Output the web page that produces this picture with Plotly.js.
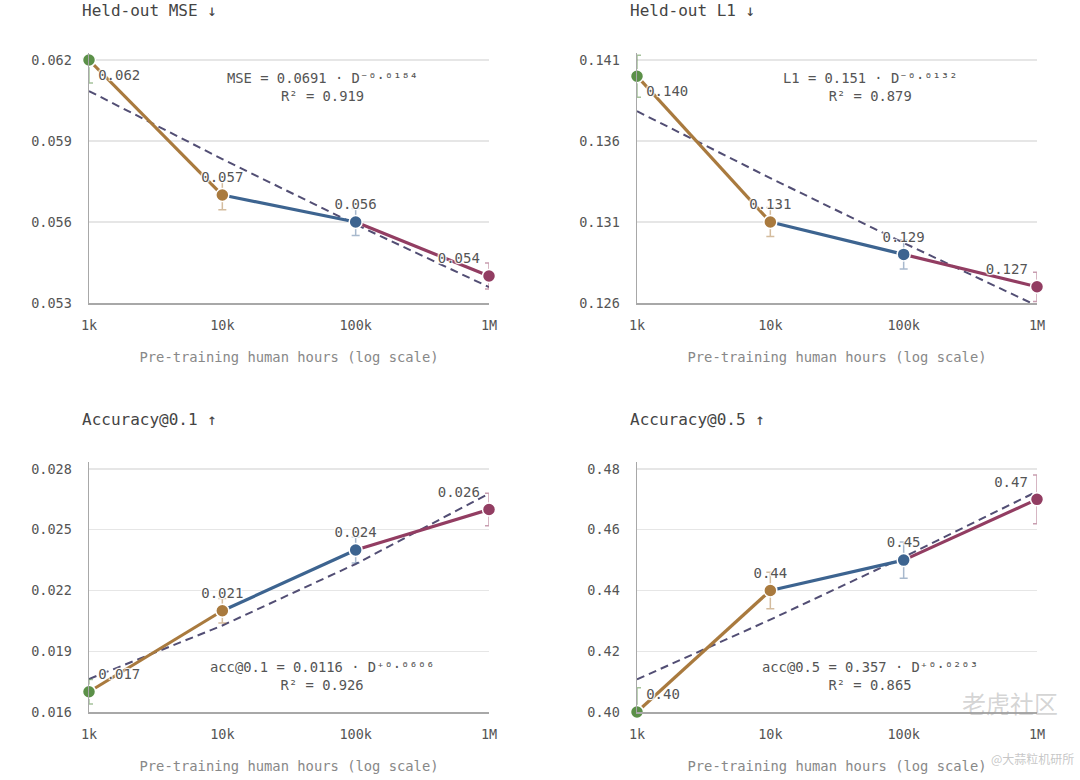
<!DOCTYPE html>
<html>
<head>
<meta charset="utf-8">
<script src="https://cdn.plot.ly/plotly-3.0.1.min.js"></script>
<style>html,body{margin:0;padding:0;background:#fff;}#chart{width:1080px;height:780px;}</style>
</head>
<body>
<div id="chart"></div>
<script>
// ---- data ----
const xHours = [1000, 10000, 100000, 1000000];
const xTickLabels = ['1k', '10k', '100k', '1M'];
const xAxisTitle = 'Pre-training human hours (log scale)';

const panelTitles = ['Held-out MSE ↓', 'Held-out L1 ↓', 'Accuracy@0.1 ↑', 'Accuracy@0.5 ↑'];

const mseValues = [0.0620, 0.0570, 0.0560, 0.0540];
const mseErrors = [0.00085, 0.00055, 0.0005, 0.00048];
const mseFit = [0.06085, 0.05833, 0.05591, 0.05359];
const mseLabels = ['0.062', '0.057', '0.056', '0.054'];
const mseTicks = [0.053, 0.056, 0.059, 0.062];
const mseFormula = 'MSE = 0.0691 · D⁻⁰·⁰¹⁸⁴<br>R² = 0.919';

const l1Values = [0.1400, 0.1310, 0.1290, 0.1270];
const l1Errors = [0.0013, 0.0009, 0.0009, 0.0009];
const l1Fit = [0.13784, 0.13371, 0.12971, 0.12583];
const l1Labels = ['0.140', '0.131', '0.129', '0.127'];
const l1Ticks = [0.126, 0.131, 0.136, 0.141];
const l1Formula = 'L1 = 0.151 · D⁻⁰·⁰¹³²<br>R² = 0.879';

const acc01Values = [0.0170, 0.0210, 0.0240, 0.0260];
const acc01Errors = [0.0006, 0.0006, 0.00064, 0.0008];
const acc01Fit = [0.01763, 0.02027, 0.02331, 0.02679];
const acc01Labels = ['0.017', '0.021', '0.024', '0.026'];
const acc01Ticks = [0.016, 0.019, 0.022, 0.025, 0.028];
const acc01Formula = 'acc@0.1 = 0.0116 · D⁺⁰·⁰⁶⁰⁶<br>R² = 0.926';

const acc05Values = [0.400, 0.440, 0.450, 0.470];
const acc05Errors = [0.008, 0.006, 0.006, 0.008];
const acc05Fit = [0.41074, 0.43040, 0.45100, 0.47257];
const acc05Labels = ['0.40', '0.44', '0.45', '0.47'];
const acc05Ticks = [0.40, 0.42, 0.44, 0.46, 0.48];
const acc05TickText = ['0.40', '0.42', '0.44', '0.46', '0.48'];
const acc05Formula = 'acc@0.5 = 0.357 · D⁺⁰·⁰²⁰³<br>R² = 0.865';

// ---- styles ----
const FONT = '"DejaVu Sans Mono", "Liberation Mono", monospace';
const pointColors = ['#5b9048', '#a97a3e', '#3d6490', '#923d62'];
const errColors = ['rgba(91,144,72,0.55)', 'rgba(169,122,62,0.5)', 'rgba(61,100,144,0.45)', 'rgba(146,61,98,0.5)'];
const fitColor = '#524e74';
const W = 1080, H = 780;
const EPS = 1e-6;

const panels = [
  {vals: mseValues, errs: mseErrors, fit: mseFit, labels: mseLabels, ticks: mseTicks, tickText: mseTicks.map(v => v.toFixed(3)), formula: mseFormula,
   range: [0.053, 0.06226], px: [89, 489], py: [53, 303], textPos: ['bottom right', 'top center', 'top center', 'top left'], fx: 322, fy: 87, tx: 80, ty: 11},
  {vals: l1Values, errs: l1Errors, fit: l1Fit, labels: l1Labels, ticks: l1Ticks, tickText: l1Ticks.map(v => v.toFixed(3)), formula: l1Formula,
   range: [0.126, 0.141432], px: [637, 1037], py: [53, 303], textPos: ['bottom right', 'top center', 'top center', 'top left'], fx: 870, fy: 87, tx: 628, ty: 11},
  {vals: acc01Values, errs: acc01Errors, fit: acc01Fit, labels: acc01Labels, ticks: acc01Ticks, tickText: acc01Ticks.map(v => v.toFixed(3)), formula: acc01Formula,
   range: [0.016, 0.028346], px: [89, 489], py: [462, 712], textPos: ['top right', 'top center', 'top center', 'top left'], fx: 322, fy: 676, tx: 80, ty: 419},
  {vals: acc05Values, errs: acc05Errors, fit: acc05Fit, labels: acc05Labels, ticks: acc05Ticks, tickText: acc05TickText, formula: acc05Formula,
   range: [0.40, 0.4823], px: [637, 1037], py: [462, 712], textPos: ['top right', 'top center', 'top center', 'top left'], fx: 870, fy: 676, tx: 628, ty: 419}
];

const traces = [];
const layout = {
  width: W, height: H,
  margin: {l: 0, r: 0, t: 0, b: 0},
  paper_bgcolor: '#fff', plot_bgcolor: '#fff',
  showlegend: false,
  font: {family: FONT, color: '#555'},
  annotations: []
};

panels.forEach((p, i) => {
  const n = i + 1;
  const xa = 'x' + (n === 1 ? '' : n), ya = 'y' + (n === 1 ? '' : n);
  const xKey = 'xaxis' + (n === 1 ? '' : n), yKey = 'yaxis' + (n === 1 ? '' : n);

  layout[xKey] = {
    type: 'log', range: [3 - EPS, 6 + EPS], domain: [p.px[0] / W, p.px[1] / W], anchor: ya,
    tickvals: xHours, ticktext: xTickLabels, showgrid: false, zeroline: false,
    showline: true, linecolor: '#a8a8a8', linewidth: 1.5, ticks: '',
    ticklabelstandoff: 9,
    tickfont: {family: FONT, size: 13.5, color: '#555'},
    title: {text: xAxisTitle, font: {family: FONT, size: 13.8, color: '#888'}, standoff: 20}
  };
  layout[yKey] = {
    range: [p.range[0] - (p.range[1] - p.range[0]) * EPS, p.range[1]], domain: [1 - p.py[1] / H, 1 - p.py[0] / H], anchor: xa,
    tickvals: p.ticks, ticktext: p.tickText, showgrid: true, gridcolor: '#e6e6e6', gridwidth: 1.2,
    zeroline: false, showline: true, linecolor: '#a8a8a8', linewidth: 1.5, ticks: '',
    ticklabelstandoff: 13,
    tickfont: {family: FONT, size: 13.5, color: '#555'}
  };

  // fit (dashed)
  traces.push({x: xHours, y: p.fit, xaxis: xa, yaxis: ya, mode: 'lines', type: 'scatter',
    line: {color: fitColor, width: 2, dash: '8px,5px'}, hoverinfo: 'skip'});
  // coloured segments
  for (let k = 0; k < 3; k++) {
    traces.push({x: xHours.slice(k, k + 2), y: p.vals.slice(k, k + 2), xaxis: xa, yaxis: ya, mode: 'lines', type: 'scatter',
      line: {color: pointColors[k + 1], width: 3.2}, hoverinfo: 'skip'});
  }
  // error bars (clipped to plot area)
  for (let k = 0; k < 4; k++) {
    traces.push({x: [xHours[k]], y: [p.vals[k]], xaxis: xa, yaxis: ya, mode: 'markers', type: 'scatter',
      marker: {size: 1, opacity: 0}, cliponaxis: true,
      error_y: {type: 'data', array: [p.errs[k]], visible: true, color: errColors[k], thickness: 1.5, width: 4},
      hoverinfo: 'skip'});
  }
  // markers + labels
  for (let k = 0; k < 4; k++) {
    traces.push({x: [xHours[k]], y: [p.vals[k]], xaxis: xa, yaxis: ya, mode: 'markers+text', type: 'scatter',
      cliponaxis: false,
      marker: {size: 13, color: pointColors[k], line: {color: '#fff', width: 1.5}},
      text: [p.labels[k]], textposition: p.textPos[k],
      textfont: {family: FONT, size: 14, color: '#555', shadow: '1px 1px 1px #fff, -1px -1px 1px #fff, 1px -1px 1px #fff, -1px 1px 1px #fff'},
      hoverinfo: 'skip'});
  }

  layout.annotations.push({xref: 'paper', yref: 'paper', x: p.tx / W, y: 1 - p.ty / H, xanchor: 'left', yanchor: 'middle',
    text: panelTitles[i], showarrow: false, font: {family: FONT, size: 16, color: '#444'}});
  layout.annotations.push({xref: 'paper', yref: 'paper', x: p.fx / W, y: 1 - p.fy / H, xanchor: 'center', yanchor: 'middle',
    text: p.formula, showarrow: false, align: 'center', font: {family: FONT, size: 13.8, color: '#555'}});
});

// watermark
layout.annotations.push({xref: 'paper', yref: 'paper', x: 1060 / W, y: 1 - 702 / H, xanchor: 'right', yanchor: 'middle',
  text: '老虎社区', showarrow: false, font: {family: '"Noto Sans CJK SC", sans-serif', size: 24, color: 'rgba(160,160,160,0.45)'}});
layout.annotations.push({xref: 'paper', yref: 'paper', x: 1076 / W, y: 1 - 758 / H, xanchor: 'right', yanchor: 'middle',
  text: '@大蒜粒机研所', showarrow: false, font: {family: '"Noto Sans CJK SC", sans-serif', size: 12, color: 'rgba(150,150,150,0.55)'}});

Plotly.newPlot('chart', traces, layout, {displayModeBar: false, staticPlot: true});
</script>
</body>
</html>
